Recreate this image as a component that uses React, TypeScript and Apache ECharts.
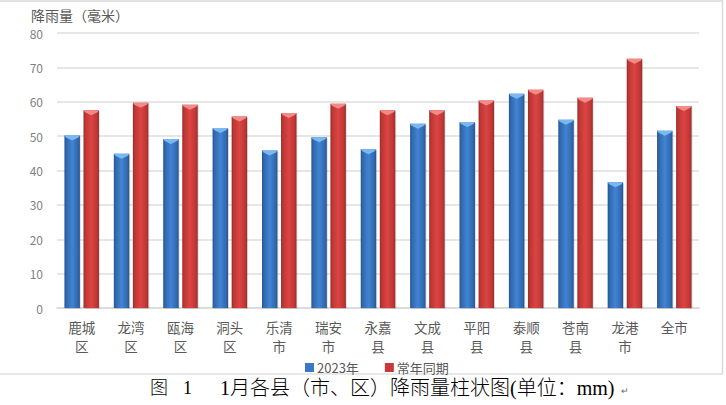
import React, { useEffect, useRef } from "react";
import * as echarts from "echarts";

const categories = ["鹿城\n区", "龙湾\n区", "瓯海\n区", "洞头\n区", "乐清\n市", "瑞安\n市", "永嘉\n县", "文成\n县", "平阳\n县", "泰顺\n县", "苍南\n县", "龙港\n市", "全市"];
const values2023 = [50.2, 44.9, 49.2, 52.4, 45.8, 49.7, 46.2, 53.6, 54.1, 62.3, 54.8, 36.6, 51.6];
const valuesNormal = [57.5, 59.7, 59.1, 55.7, 56.7, 59.4, 57.5, 57.5, 60.4, 63.5, 61.2, 72.5, 58.8];
const seriesNames = ["2023年", "常年同期"];
const yTicks = { min: 0, max: 80, interval: 10 };

const FONT = '"Noto Sans CJK SC", "Noto Sans", sans-serif';
const SERIF = '"Liberation Serif", "Noto Sans CJK SC", serif';

function makeRender(side: number, colors: { edge: string; mid: string; dark: string; top: string }) {
  return (params: any, api: any) => {
    const idx = api.value(0);
    const v = api.value(1);
    const top = api.coord([idx, v]);
    const base = api.coord([idx, 0]);
    const band = api.size([1, 0])[0];
    const w = band * 0.313;
    const gap = band * 0.073;
    const x0 = side < 0 ? top[0] - gap / 2 - w : top[0] + gap / 2;
    const y0 = top[1];
    const h = base[1] - top[1];
    const grad = new echarts.graphic.LinearGradient(0, 0, 1, 0, [
      { offset: 0, color: colors.dark },
      { offset: 0.12, color: colors.edge },
      { offset: 0.5, color: colors.mid },
      { offset: 0.88, color: colors.edge },
      { offset: 1, color: colors.dark },
    ]);
    const xc = x0 + w / 2;
    return {
      type: "group",
      children: [
        {
          type: "rect",
          shape: { x: x0 + 1, y: y0 + 1, width: w, height: h },
          style: { fill: "rgba(0,0,0,0.12)" },
        },
        {
          type: "rect",
          shape: { x: x0, y: y0, width: w, height: h },
          style: { fill: grad },
        },
        {
          type: "polygon",
          shape: {
            points: [
              [x0, y0],
              [x0 + w, y0],
              [x0 + w - 1.5, y0 + 2],
              [xc, y0 + 5],
              [x0 + 1.5, y0 + 2],
            ],
          },
          style: { fill: colors.top },
        },
      ],
    };
  };
}

export default function App() {
  const ref = useRef<HTMLDivElement>(null);
  useEffect(() => {
    if (!ref.current) return;
    const chart = echarts.init(ref.current, null, { renderer: "svg" });
    const blue = { edge: "#3068ae", mid: "#4284d2", dark: "#25538c", top: "#7ab8f2" };
    const red = { edge: "#bc3735", mid: "#dc4442", dark: "#962b29", top: "#f28a88" };
    chart.setOption({
      animation: false,
      backgroundColor: "#ffffff",
      title: {
        text: "降雨量（毫米）",
        left: 26,
        top: 3,
        textStyle: { fontFamily: FONT, fontSize: 14, fontWeight: "normal", color: "#595959" },
      },
      grid: { left: 57, right: 27, top: 33, bottom: 97, containLabel: false, outerBoundsMode: "none" },
      legend: {
        data: seriesNames.map((n) => ({ name: n, icon: "rect" })),
        left: 300,
        top: 356,
        itemWidth: 9,
        itemHeight: 9,
        itemGap: 26,
        textStyle: { fontFamily: FONT, fontSize: 13, color: "#595959", padding: [0, 0, 0, -2] },
      },
      xAxis: {
        type: "category",
        data: categories,
        axisLine: { lineStyle: { color: "#d9d9d9", width: 1.5 } },
        axisTick: { show: false },
        axisLabel: { interval: 0, fontFamily: FONT, fontSize: 13.5, lineHeight: 19, color: "#595959", margin: 9 },
      },
      yAxis: {
        type: "value",
        min: yTicks.min,
        max: yTicks.max,
        interval: yTicks.interval,
        axisLine: { show: false },
        axisTick: { show: false },
        axisLabel: { fontFamily: FONT, fontSize: 12, color: "#7f7f7f", margin: 14 },
        splitLine: { lineStyle: { color: "#dedede", width: 1.5 } },
      },
      series: [
        {
          name: seriesNames[0],
          type: "custom",
          itemStyle: { color: "#3a78c4" },
          encode: { x: 0, y: 1 },
          data: values2023.map((v, i) => [i, v]),
          renderItem: makeRender(-1, blue),
        },
        {
          name: seriesNames[1],
          type: "custom",
          itemStyle: { color: "#c83a38" },
          encode: { x: 0, y: 1 },
          data: valuesNormal.map((v, i) => [i, v]),
          renderItem: makeRender(1, red),
        },
      ],
      graphic: [
        { type: "line", shape: { x1: 0, y1: 1, x2: 722.5, y2: 1 }, style: { stroke: "#d9d9d9", lineWidth: 1.5 } },
        { type: "line", shape: { x1: 722.5, y1: 0, x2: 722.5, y2: 374 }, style: { stroke: "#d9d9d9", lineWidth: 1.5 } },
        { type: "line", shape: { x1: 0, y1: 374, x2: 722.5, y2: 374 }, style: { stroke: "#e0e0e0", lineWidth: 1.5 } },
        {
          type: "text",
          x: 150,
          y: 388,
          style: { text: "图", fontFamily: SERIF, fontSize: 18, fontWeight: 300, fill: "#000", verticalAlign: "middle" },
        },
        {
          type: "text",
          x: 183,
          y: 388,
          style: { text: "1", fontFamily: SERIF, fontSize: 18, fill: "#000", verticalAlign: "middle" },
        },
        {
          type: "text",
          x: 220,
          y: 388,
          style: {
            text: "1月各县（市、区）降雨量柱状图(单位：mm)",
            fontFamily: SERIF,
            fontSize: 20,
            fontWeight: 300,
            fill: "#000",
            verticalAlign: "middle",
          },
        },
        {
          type: "text",
          x: 621,
          y: 390,
          style: { text: "↵", fontFamily: FONT, fontSize: 9, fill: "#666", verticalAlign: "middle" },
        },
      ],
    });
    return () => chart.dispose();
  }, []);
  return <div ref={ref} style={{ position: "absolute", left: 0, top: 0, width: 726, height: 405 }} />;
}
